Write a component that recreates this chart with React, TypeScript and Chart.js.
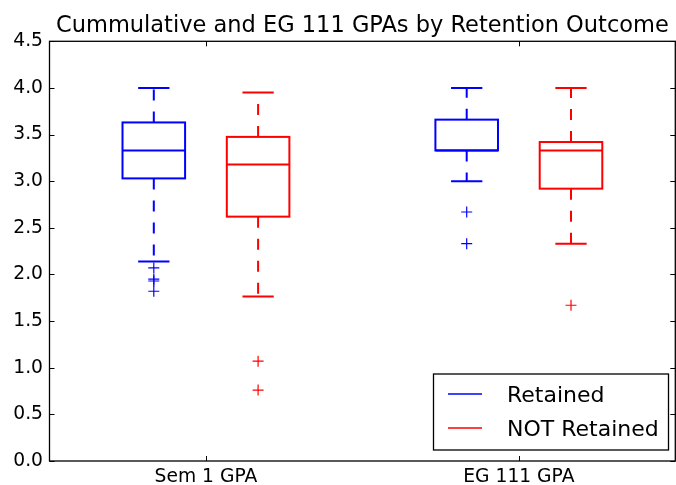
import React, { useEffect, useRef } from 'react';
import { Chart, registerables } from 'chart.js';

Chart.register(...registerables);

const title = 'Cummulative and EG 111 GPAs by Retention Outcome';
const categories = ['Sem 1 GPA', 'EG 111 GPA'];
const categoryPositions = [1.5, 4.5];
const seriesNames = ['Retained', 'NOT Retained'];
const seriesColors = ['#0000ff', '#ff0000'];
const retainedPositions = [1, 4];
const notRetainedPositions = [2, 5];
// [lower whisker, Q1, median, Q3, upper whisker]
const retainedSem1 = [2.14, 3.03, 3.33, 3.63, 4.0];
const retainedEG111 = [3.0, 3.33, 3.33, 3.66, 4.0];
const notRetainedSem1 = [1.765, 2.62, 3.18, 3.475, 3.95];
const notRetainedEG111 = [2.33, 2.92, 3.33, 3.42, 4.0];
const retainedSem1Fliers = [2.07, 1.95, 1.93, 1.82];
const retainedEG111Fliers = [2.67, 2.33];
const notRetainedSem1Fliers = [1.07, 0.76];
const notRetainedEG111Fliers = [1.67];
const yTicks = [0, 0.5, 1.0, 1.5, 2.0, 2.5, 3.0, 3.5, 4.0, 4.5];

const FONT = '"DejaVu Sans", sans-serif';
const BOX_WIDTH = 0.6;

type Box = { pos: number; stats: number[]; color: string };

const boxes: Box[] = [
  { pos: retainedPositions[0], stats: retainedSem1, color: seriesColors[0] },
  { pos: notRetainedPositions[0], stats: notRetainedSem1, color: seriesColors[1] },
  { pos: retainedPositions[1], stats: retainedEG111, color: seriesColors[0] },
  { pos: notRetainedPositions[1], stats: notRetainedEG111, color: seriesColors[1] },
];

const boxPlugin = {
  id: 'boxPlugin',
  beforeDatasetsDraw(chart: any) {
    const ctx = chart.ctx as CanvasRenderingContext2D;
    const xs = chart.scales.x;
    const ys = chart.scales.y;
    ctx.save();
    for (const b of boxes) {
      const [lo, q1, med, q3, hi] = b.stats;
      const xc = xs.getPixelForValue(b.pos);
      const xl = xs.getPixelForValue(b.pos - BOX_WIDTH / 2);
      const xr = xs.getPixelForValue(b.pos + BOX_WIDTH / 2);
      const cl = xs.getPixelForValue(b.pos - BOX_WIDTH / 4);
      const cr = xs.getPixelForValue(b.pos + BOX_WIDTH / 4);
      const yLo = ys.getPixelForValue(lo);
      const yQ1 = ys.getPixelForValue(q1);
      const yMed = ys.getPixelForValue(med);
      const yQ3 = ys.getPixelForValue(q3);
      const yHi = ys.getPixelForValue(hi);
      ctx.strokeStyle = b.color;
      ctx.lineWidth = 2;
      // whiskers (dashed)
      ctx.setLineDash([11, 11]);
      ctx.beginPath();
      ctx.moveTo(xc, yQ1);
      ctx.lineTo(xc, yLo);
      ctx.moveTo(xc, yQ3);
      ctx.lineTo(xc, yHi);
      ctx.stroke();
      ctx.setLineDash([]);
      // caps
      ctx.beginPath();
      ctx.moveTo(cl, yLo);
      ctx.lineTo(cr, yLo);
      ctx.moveTo(cl, yHi);
      ctx.lineTo(cr, yHi);
      ctx.stroke();
      // box
      ctx.strokeRect(xl, yQ3, xr - xl, yQ1 - yQ3);
      // median
      ctx.beginPath();
      ctx.moveTo(xl, yMed);
      ctx.lineTo(xr, yMed);
      ctx.stroke();
    }
    ctx.restore();
  },
  afterDraw(chart: any) {
    const ctx = chart.ctx as CanvasRenderingContext2D;
    const { left, right, top, bottom } = chart.chartArea;
    const xs = chart.scales.x;
    const ys = chart.scales.y;
    ctx.save();
    // ticks (inward, both sides)
    ctx.strokeStyle = '#000';
    ctx.lineWidth = 1;
    ctx.beginPath();
    for (const v of yTicks) {
      const y = Math.round(ys.getPixelForValue(v)) + 0.5;
      ctx.moveTo(left, y);
      ctx.lineTo(left + 5, y);
      ctx.moveTo(right, y);
      ctx.lineTo(right - 5, y);
    }
    for (const v of categoryPositions) {
      const x = Math.round(xs.getPixelForValue(v)) + 0.5;
      ctx.moveTo(x, bottom);
      ctx.lineTo(x, bottom - 5);
      ctx.moveTo(x, top);
      ctx.lineTo(x, top + 5);
    }
    ctx.stroke();
    // spines
    ctx.lineWidth = 1.3;
    ctx.strokeRect(left, top, right - left, bottom - top);
    // title
    ctx.fillStyle = '#000';
    ctx.font = `22.5px ${FONT}`;
    ctx.textAlign = 'center';
    ctx.textBaseline = 'alphabetic';
    ctx.fillText(title, (left + right) / 2, 31.5);
    // legend
    const lx = 433.5;
    const ly = 374;
    const lw = 235;
    const lh = 76;
    ctx.fillStyle = '#fff';
    ctx.fillRect(lx, ly, lw, lh);
    ctx.strokeStyle = '#000';
    ctx.lineWidth = 1.3;
    ctx.strokeRect(lx, ly, lw, lh);
    ctx.font = `22px ${FONT}`;
    ctx.textAlign = 'left';
    seriesNames.forEach((name, i) => {
      const yy = 394 + i * 34;
      ctx.strokeStyle = seriesColors[i];
      ctx.lineWidth = 1.5;
      ctx.beginPath();
      ctx.moveTo(448, yy);
      ctx.lineTo(482, yy);
      ctx.stroke();
      ctx.fillStyle = '#000';
      ctx.fillText(name, 507, yy + 8.3);
    });
    ctx.restore();
  },
};

const flierData = (positions: number[], values: number[][]) =>
  values.flatMap((vals, i) => vals.map((v) => ({ x: positions[i], y: v })));

export default function App() {
  const ref = useRef<HTMLCanvasElement | null>(null);
  useEffect(() => {
    document.body.style.margin = '0';
    const canvas = ref.current!;
    const chart = new Chart(canvas, {
      type: 'scatter',
      data: {
        datasets: [
          {
            label: seriesNames[0],
            data: flierData(retainedPositions, [retainedSem1Fliers, retainedEG111Fliers]),
            pointStyle: 'cross',
            radius: 5.5,
            borderColor: seriesColors[0],
            backgroundColor: seriesColors[0],
            borderWidth: 1.2,
          },
          {
            label: seriesNames[1],
            data: flierData(notRetainedPositions, [notRetainedSem1Fliers, notRetainedEG111Fliers]),
            pointStyle: 'cross',
            radius: 5.5,
            borderColor: seriesColors[1],
            backgroundColor: seriesColors[1],
            borderWidth: 1.2,
          },
        ],
      },
      options: {
        responsive: false,
        animation: false,
        devicePixelRatio: 1,
        layout: { padding: { top: 41.3, right: 2.5, left: 0, bottom: 0 } },
        plugins: {
          legend: { display: false },
          tooltip: { enabled: false },
          title: { display: false },
        },
        scales: {
          x: {
            type: 'linear',
            min: 0,
            max: 6,
            afterBuildTicks: (s: any) => {
              s.ticks = categoryPositions.map((v) => ({ value: v }));
            },
            afterFit: (s: any) => {
              s.height = 24;
            },
            ticks: {
              autoSkip: false,
              maxRotation: 0,
              padding: 5,
              color: '#000',
              font: { family: FONT, size: 18.7 },
              callback: (v: any) => {
                const i = categoryPositions.indexOf(Number(v));
                return i >= 0 ? categories[i] : '';
              },
            },
            grid: { display: false, drawTicks: false },
            border: { display: false },
          },
          y: {
            type: 'linear',
            min: 0,
            max: 4.5,
            afterBuildTicks: (s: any) => {
              s.ticks = yTicks.map((v) => ({ value: v }));
            },
            afterFit: (s: any) => {
              s.width = 49.5;
            },
            ticks: {
              padding: 6.5,
              color: '#000',
              font: { family: FONT, size: 18.7 },
              callback: (v: any) => Number(v).toFixed(1),
            },
            grid: { display: false, drawTicks: false },
            border: { display: false },
          },
        },
      },
      plugins: [boxPlugin],
    } as any);
    return () => chart.destroy();
  }, []);
  return (
    <div style={{ width: 676, height: 485, overflow: 'hidden', position: 'relative' }}>
      <canvas ref={ref} width={682} height={485} style={{ display: 'block' }} />
    </div>
  );
}
